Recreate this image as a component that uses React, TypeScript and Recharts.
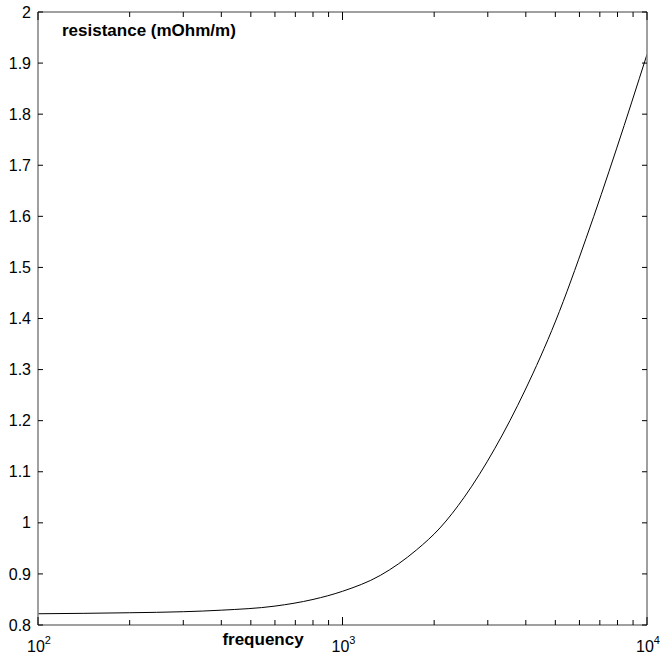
import { Line, LineChart, XAxis, YAxis } from "recharts";

const frequency = [100, 200, 300, 400, 600, 800, 1000, 1330, 1750, 2090, 2510, 3160, 3980, 5010, 6310, 7940, 10000];
const resistance = [0.822, 0.824, 0.826, 0.829, 0.837, 0.85, 0.866, 0.897, 0.947, 0.99, 1.05, 1.145, 1.26, 1.395, 1.557, 1.732, 1.917];

const xMajorTicks = [100, 1000, 10000];
const xAllTicks = [100, 200, 300, 400, 500, 600, 700, 800, 900, 1000, 2000, 3000, 4000, 5000, 6000, 7000, 8000, 9000, 10000];
const yTicks = [0.8, 0.9, 1, 1.1, 1.2, 1.3, 1.4, 1.5, 1.6, 1.7, 1.8, 1.9, 2];

const data = frequency.map((f, i) => ({ f, r: resistance[i] }));

const FONT = "'Liberation Sans', Arial, sans-serif";
const AXIS = "#808080";

const BottomTick = (props: any) => {
  const { x, y, payload } = props;
  const major = xMajorTicks.includes(payload.value);
  const exp = Math.round(Math.log10(payload.value));
  return (
    <g>
      <line x1={x} x2={x} y1={y} y2={y - (major ? 8 : 5)} stroke="#000" />
      {major && (
        <text x={x - 11} y={y + 27} fontSize={16} fontFamily={FONT} fill="#000">
          <tspan>10</tspan>
          <tspan dy={-8} fontSize={11}>{exp}</tspan>
        </text>
      )}
    </g>
  );
};

const TopTick = (props: any) => {
  const { x, y, payload } = props;
  const major = xMajorTicks.includes(payload.value);
  return <line x1={x} x2={x} y1={y} y2={y + (major ? 8 : 5)} stroke="#000" />;
};

const LeftTick = (props: any) => {
  const { x, y, payload } = props;
  return (
    <g>
      <line x1={x} x2={x + 5} y1={y} y2={y} stroke="#000" />
      <text x={x - 7} y={y} dy="0.35em" textAnchor="end" fontSize={16} fontFamily={FONT} fill="#000">
        {String(Number(payload.value.toFixed(1)))}
      </text>
    </g>
  );
};

const RightTick = (props: any) => {
  const { x, y } = props;
  return <line x1={x} x2={x - 5} y1={y} y2={y} stroke="#000" />;
};

export default function App() {
  return (
    <div style={{ position: "absolute", left: 0, top: 0, background: "#fff" }}>
      <LineChart width={660} height={656} data={data} margin={{ top: 0, right: 0, bottom: 0, left: 0 }}>
        <XAxis
          xAxisId="bottom"
          dataKey="f"
          type="number"
          scale="log"
          domain={[100, 10000]}
          allowDataOverflow
          ticks={xAllTicks}
          interval={0}
          tick={BottomTick}
          tickLine={false}
          tickSize={0}
          tickMargin={0}
          height={31}
          axisLine={{ stroke: AXIS, strokeWidth: 1.5 }}
        />
        <XAxis
          xAxisId="top"
          orientation="top"
          dataKey="f"
          type="number"
          scale="log"
          domain={[100, 10000]}
          allowDataOverflow
          ticks={xAllTicks}
          interval={0}
          tick={TopTick}
          tickLine={false}
          tickSize={0}
          tickMargin={0}
          height={12}
          axisLine={{ stroke: AXIS, strokeWidth: 1.5 }}
        />
        <YAxis
          yAxisId="left"
          type="number"
          domain={[0.8, 2]}
          allowDataOverflow
          ticks={yTicks}
          interval={0}
          tick={LeftTick}
          tickLine={false}
          tickSize={0}
          tickMargin={0}
          width={38}
          axisLine={{ stroke: AXIS, strokeWidth: 1.5 }}
        />
        <YAxis
          yAxisId="right"
          orientation="right"
          type="number"
          domain={[0.8, 2]}
          allowDataOverflow
          ticks={yTicks}
          interval={0}
          tick={RightTick}
          tickLine={false}
          tickSize={0}
          tickMargin={0}
          width={13}
          axisLine={{ stroke: AXIS, strokeWidth: 1.5 }}
        />
        <Line
          xAxisId="bottom"
          yAxisId="left"
          type="monotone"
          dataKey="r"
          stroke="#000"
          strokeWidth={1}
          dot={false}
          isAnimationActive={false}
        />
        <text x={62} y={36} fontSize={17} fontWeight="bold" fontFamily={FONT} fill="#000">
          resistance (mOhm/m)
        </text>
        <text x={263} y={645} textAnchor="middle" fontSize={17} fontWeight="bold" fontFamily={FONT} fill="#000">
          frequency
        </text>
      </LineChart>
    </div>
  );
}
